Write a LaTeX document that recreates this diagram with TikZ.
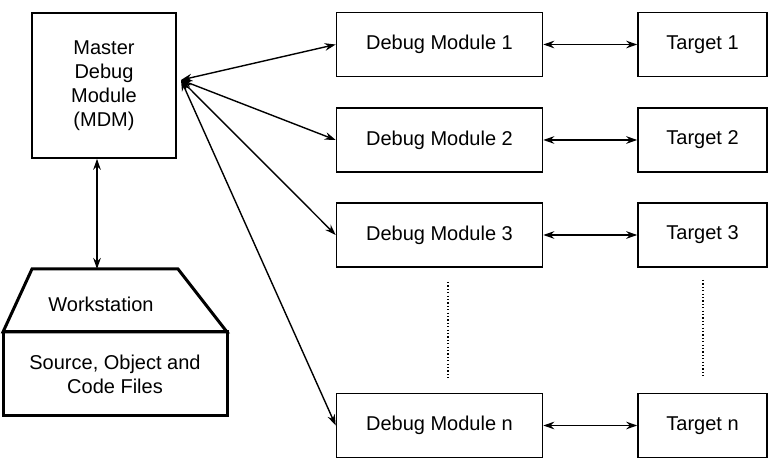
\documentclass[tikz,border=0pt]{standalone}
\usepackage{fontspec}
\setmainfont{Liberation Sans}
\usetikzlibrary{arrows.meta}
\tikzset{
  box/.style={draw,line width=.8pt,align=center,inner sep=0pt},
  wsline/.style={line width=1.5pt,line join=miter},
  link/.style={{Stealth[length=5.5pt,width=3.8pt]}-{Stealth[length=5.5pt,width=3.8pt]},line width=.7pt},
  dots/.style={line width=.8pt,dash pattern=on .6pt off 1.1pt},
}
\begin{document}
\begin{tikzpicture}[x=.5pt,y=-.5pt]
 \useasboundingbox (0,0) rectangle (774,474);
 \node[box,minimum width=72pt,minimum height=72.5pt] (mdm) at (104,85.5) {Master\\Debug\\Module\\(MDM)};
 \coordinate (hub) at (181,80);
 \foreach \i/\y in {1/44.5,2/140,3/235,n/425.5}
   {\node[box,minimum width=103pt,minimum height=32pt] (dm\i) at (439.5,\y) {Debug Module \i};
    \node[box,minimum width=64.5pt,minimum height=32pt] (t\i) at (702.5,\y) {Target \i};
    \draw[link] (dm\i) -- (t\i);
    \draw[link] (hub) -- (dm\i.west);}
 \draw[dots] (448,282) -- (448,378);
 \draw[dots] (703,280) -- (703,377);
 % workstation
 \draw[wsline] (3,332) -- (32,269) -- (178,269) -- (227,332) -- cycle;
 \node[box,wsline,minimum width=112pt,minimum height=42pt] (files) at (115,374) {Source, Object and\\Code Files};
 \node (ws) at (101,304) {Workstation};
 \coordinate (wstop) at (97,269);
 \draw[link] (mdm.south -| wstop) -- (wstop);
\end{tikzpicture}
\end{document}
